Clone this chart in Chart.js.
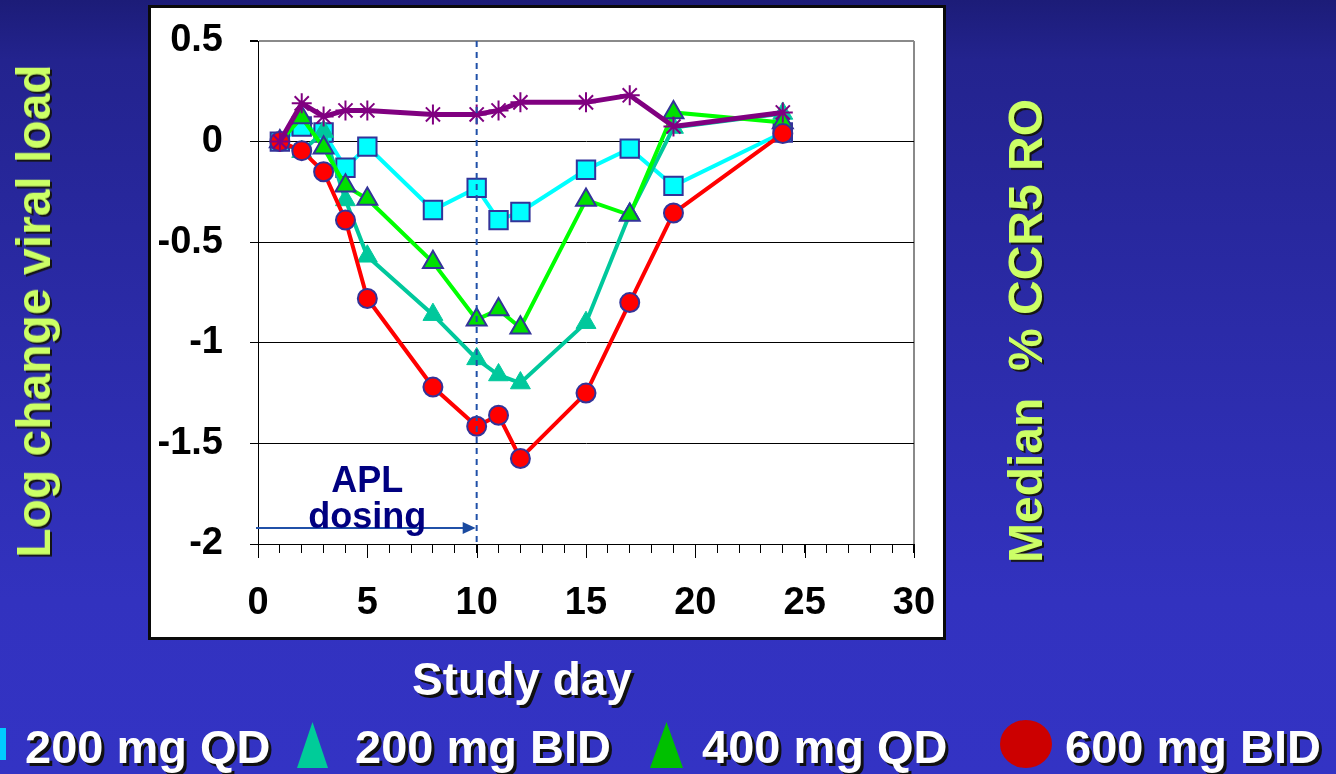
<!DOCTYPE html>
<html>
<head>
<meta charset="utf-8">
<script src="https://cdn.jsdelivr.net/npm/chart.js@4"></script>
<style>
  html, body { margin: 0; padding: 0; }
  body {
    width: 1336px; height: 774px; overflow: hidden; position: relative;
    background: linear-gradient(to bottom, #1c1c78 0px, #23238e 60px, #2b2ba8 330px, #3232bf 600px, #3333c4 774px);
    font-family: 'Liberation Sans', Arial, sans-serif; font-weight: bold;
  }
  #box { position: absolute; left: 148px; top: 5px; width: 792px; height: 629px; background: #fff; border: 3px solid #0a0a0a; }
  #wrap { position: absolute; left: 0; top: 0; width: 1336px; height: 774px; }
  .t { position: absolute; white-space: pre; line-height: 1; }
  .rot { color: #ccff66; font-size: 48px; text-shadow: -2px 2px 0 #141414; transform: translate(-50%, -50%) rotate(-90deg); }
  .wt { color: #fff; text-shadow: 3px 3px 0 #111; }
  .leg { font-size: 47px; top: 723px; }
  .mk { position: absolute; }
</style>
</head>
<body>
<div id="box"></div>
<div id="wrap"><canvas id="myChart"></canvas></div>

<div class="t rot" style="left:34px; top:311px;">Log change viral load</div>
<div class="t rot" style="left:1026px; top:331px;">Median  % CCR5 RO</div>
<div class="t wt" style="left:322px; width:400px; text-align:center; top:656px; font-size:46px;">Study day</div>

<div class="mk" style="left:0; top:728px; width:6px; height:32px; background:#00ccff;"></div>
<div class="t wt leg" style="left:25px;">200 mg QD</div>
<div class="mk" style="left:297px; top:722px; width:31px; height:46px; background:#00cc99; clip-path: polygon(50% 0, 100% 100%, 0 100%);"></div>
<div class="t wt leg" style="left:355px;">200 mg BID</div>
<div class="mk" style="left:650px; top:722px; width:33px; height:46px; background:#00c000; clip-path: polygon(50% 0, 100% 100%, 0 100%);"></div>
<div class="t wt leg" style="left:702px;">400 mg QD</div>
<div class="mk" style="left:1000px; top:720px; width:52px; height:48px; border-radius:50%; background:#cc0000;"></div>
<div class="t wt leg" style="left:1065px;">600 mg BID</div>

<script>
const days = [1, 2, 3, 4, 5, 8, 10, 11, 12, 15, 17, 19, 24];
const placebo  = [0, 0.19, 0.125, 0.155, 0.155, 0.135, 0.135, 0.155, 0.195, 0.195, 0.23, 0.075, 0.145];
const mg600bid = [0, -0.045, -0.15, -0.39, -0.78, -1.22, -1.415, -1.36, -1.575, -1.25, -0.8, -0.355, 0.04];
const mg400qd  = [0, 0.12, -0.03, -0.22, -0.285, -0.6, -0.885, -0.835, -0.925, -0.29, -0.365, 0.145, 0.095];
const mg200bid = [0, -0.05, 0.05, -0.29, -0.57, -0.86, -1.08, -1.16, -1.2, -0.9, -0.36, 0.07, 0.14];
const mg200qd  = [0, 0.075, 0.045, -0.13, -0.025, -0.34, -0.23, -0.39, -0.35, -0.14, -0.035, -0.22, 0.045];
const xLabelled = [0, 5, 10, 15, 20, 25, 30];
const dosingEnd = 10;

const FONT = "'Liberation Sans', Arial, sans-serif";
const edge = '#333399';

const toPoints = (ys) => ys.map((v, i) => ({x: days[i], y: v}));

// dashed end-of-dosing line, arrow, label and the longer major x ticks
const annotations = {
  id: 'annotations',
  afterDatasetsDraw(chart) {
    const {ctx, chartArea, scales: {x, y}} = chart;
    ctx.save();
    ctx.strokeStyle = '#000';
    ctx.lineWidth = 1;
    xLabelled.forEach(v => {
      const px = Math.round(x.getPixelForValue(v)) + 0.5;
      ctx.beginPath();
      ctx.moveTo(px, chartArea.bottom);
      ctx.lineTo(px, chartArea.bottom + 14);
      ctx.stroke();
    });

    const dx = x.getPixelForValue(dosingEnd);
    ctx.strokeStyle = '#2050a8';
    ctx.lineWidth = 2;
    ctx.setLineDash([6, 5]);
    ctx.beginPath();
    ctx.moveTo(dx, chartArea.top);
    ctx.lineTo(dx, chartArea.bottom);
    ctx.stroke();
    ctx.setLineDash([]);

    const ay = y.getPixelForValue(-1.92);
    ctx.beginPath();
    ctx.moveTo(x.getPixelForValue(0) - 2, ay);
    ctx.lineTo(dx - 10, ay);
    ctx.stroke();
    ctx.fillStyle = '#1a4aa0';
    ctx.beginPath();
    ctx.moveTo(dx - 1, ay);
    ctx.lineTo(dx - 14, ay - 6);
    ctx.lineTo(dx - 14, ay + 6);
    ctx.closePath();
    ctx.fill();

    ctx.fillStyle = '#000080';
    ctx.font = 'bold 36px ' + FONT;
    ctx.textAlign = 'center';
    ctx.textBaseline = 'alphabetic';
    const tx = x.getPixelForValue(5);
    ctx.fillText('APL', tx, y.getPixelForValue(-1.74));
    ctx.fillText('dosing', tx, y.getPixelForValue(-1.92));
    ctx.restore();
  }
};

const data = {
  datasets: [{
    label: 'Placebo',
    data: toPoints(placebo),
    borderColor: '#800080',
    borderWidth: 5,
    pointStyle: 'star',
    pointRadius: 10,
    pointBorderColor: '#800080',
    pointBorderWidth: 2,
  }, {
    label: '600 mg BID',
    data: toPoints(mg600bid),
    borderColor: '#ff0000',
    borderWidth: 4,
    pointStyle: 'circle',
    pointRadius: 9.5,
    pointBackgroundColor: '#ff0000',
    pointBorderColor: edge,
    pointBorderWidth: 2,
  }, {
    label: '400 mg QD',
    data: toPoints(mg400qd),
    borderColor: '#00ff00',
    borderWidth: 4,
    pointStyle: 'triangle',
    pointRadius: 11.5,
    pointBackgroundColor: '#00e000',
    pointBorderColor: edge,
    pointBorderWidth: 2,
  }, {
    label: '200 mg BID',
    data: toPoints(mg200bid),
    borderColor: '#00c89c',
    borderWidth: 4,
    pointStyle: 'triangle',
    pointRadius: 11.5,
    pointBackgroundColor: '#00c89c',
    pointBorderColor: '#00c89c',
    pointBorderWidth: 1,
  }, {
    label: '200 mg QD',
    data: toPoints(mg200qd),
    borderColor: '#00ffff',
    borderWidth: 4,
    pointStyle: 'rect',
    pointRadius: 13,
    pointBackgroundColor: '#00ffff',
    pointBorderColor: edge,
    pointBorderWidth: 2,
  }]
};

const config = {
  type: 'line',
  data,
  plugins: [annotations],
  options: {
    responsive: true,
    maintainAspectRatio: false,
    animation: false,
    events: [],
    layout: { padding: { left: 150, right: 422, top: 41, bottom: 130 } },
    plugins: { legend: { display: false }, tooltip: { enabled: false } },
    elements: { line: { tension: 0 } },
    scales: {
      x: {
        type: 'linear',
        min: 0,
        max: 30,
        ticks: {
          stepSize: 1,
          autoSkip: false,
          maxRotation: 0,
          padding: 28,
          color: '#000',
          font: { family: FONT, size: 38, weight: 'bold' },
          callback: (v) => (v % 5 === 0 ? String(v) : ''),
        },
        grid: {
          color: (c) => (c.tick && c.tick.value === 30 ? '#8a8a8a' : 'rgba(0,0,0,0)'),
          lineWidth: (c) => (c.tick && c.tick.value === 30 ? 2 : 1),
          tickColor: '#000',
          tickLength: 9,
        },
        border: { color: '#000', width: 1 },
        afterFit: (s) => { s.height = 100; },
      },
      y: {
        type: 'linear',
        min: -2,
        max: 0.5,
        ticks: {
          stepSize: 0.5,
          padding: 27,
          color: '#000',
          font: { family: FONT, size: 38, weight: 'bold' },
          callback: (v) => String(Math.round(v * 10) / 10),
        },
        grid: {
          color: (c) => (c.tick && c.tick.value === 0.5 ? '#8a8a8a' : '#000'),
          lineWidth: (c) => (c.tick && c.tick.value === 0.5 ? 2 : 1),
          tickColor: '#000',
          tickLength: 8,
        },
        border: { color: '#000', width: 1 },
        afterFit: (s) => { s.width = 108; s.paddingTop = 0; s.paddingBottom = 0; },
      }
    }
  }
};

const myChart = new Chart(document.getElementById('myChart'), config);
</script>
</body>
</html>
